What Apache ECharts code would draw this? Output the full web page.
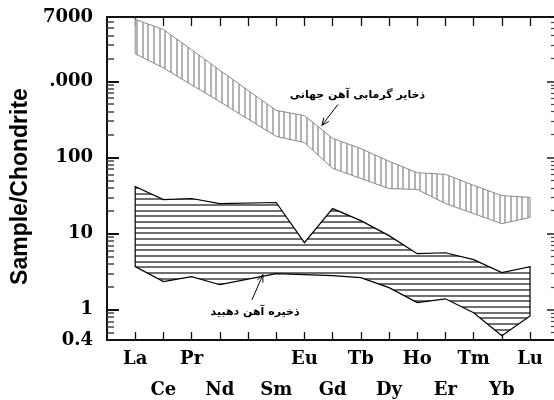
<!DOCTYPE html>
<html><head><meta charset="utf-8">
<script src="https://cdn.jsdelivr.net/npm/echarts@6/dist/echarts.min.js"></script>
<style>html,body{margin:0;padding:0;background:#fff}#c{width:554px;height:400px}</style>
</head><body><div id="c"></div>
<script>
// REE order (Pm slot kept empty on the axis)
const elements = ['La','Ce','Pr','Nd','Pm','Sm','Eu','Gd','Tb','Dy','Ho','Er','Tm','Yb','Lu'];
const elementPos = [1,2,3,4,5,6,7,8,9,10,11,12,13,14,15];
const bandElements = ['La','Ce','Pr','Nd','Sm','Eu','Gd','Tb','Dy','Ho','Er','Tm','Yb','Lu'];
// World hydrothermal iron deposits (range)
const worldUpper = [6500, 4800, 2600, 1400, 415, 355, 178, 131, 89, 63, 60, 43, 31.6, 29.8];
const worldLower = [2300, 1500, 900, 540, 189, 157, 72, 53, 39, 38, 24.8, 18.3, 13.5, 16.3];
// Dahbid iron deposit (range)
const dahbidUpper = [41.5, 28, 28.9, 24.8, 25.6, 7.6, 21.3, 14.8, 9.4, 5.45, 5.6, 4.55, 3.07, 3.68];
const dahbidLower = [3.68, 2.34, 2.72, 2.13, 2.98, 2.89, 2.8, 2.64, 1.95, 1.24, 1.39, 0.91, 0.455, 0.83];
// y axis ticks
const yTickValues = [0.4, 1, 10, 100, 1000, 7000];
const yTickText = ['0.4', '1', '10', '100', '.000', '7000'];
const yMajorTicks = [1, 10, 100, 1000];
const yMinorTicks = [0.5,0.6,0.7,0.8,0.9, 2,3,4,5,6,7,8,9, 20,30,40,50,60,70,80,90,
  200,300,400,500,600,700,800,900, 2000,3000,4000,5000,6000];
const labelWorld = 'ذخایر گرمابی آهن جهانی';
const labelDahbid = 'ذخیره آهن دهبید';

function pos(name){ return elementPos[elements.indexOf(name)]; }

function makePattern(vertical, color){
  const c = document.createElement('canvas');
  c.width = 17; c.height = 17;
  const g = c.getContext('2d');
  g.fillStyle = '#fff'; g.fillRect(0,0,17,17);
  g.fillStyle = color;
  for (let k = 0; k < 3; k++) {
    const o = Math.round(k * 17 / 3);
    if (vertical) g.fillRect(o, 0, 2, 17); else g.fillRect(0, o, 17, 2);
  }
  return {image: c, repeat: 'repeat'};
}
const patWorld = makePattern(true, '#b4b4b4');
const patDahbid = makePattern(false, '#707070');

function bandSeries(upper, lower, fill, stroke, lw){
  return {
    type: 'custom',
    coordinateSystem: 'cartesian2d',
    xAxisIndex: 0, yAxisIndex: 0,
    data: [[1, 1]],
    silent: true,
    renderItem: function(params, api){
      const pts = [];
      for (let i = 0; i < bandElements.length; i++) pts.push(api.coord([pos(bandElements[i]), upper[i]]));
      for (let i = bandElements.length - 1; i >= 0; i--) pts.push(api.coord([pos(bandElements[i]), lower[i]]));
      return {type: 'polygon', shape: {points: pts}, style: {fill: fill, stroke: stroke, lineWidth: lw}};
    }
  };
}

const serifFont = 'DejaVu Serif';
function yLabel(v){
  for (let i = 0; i < yTickValues.length; i++) {
    if (Math.abs(Math.log10(v) - Math.log10(yTickValues[i])) < 0.01) return yTickText[i];
  }
  return '';
}
const yBase = {type: 'log', logBase: 10, min: 0.4, max: 7000, splitLine: {show: false}};
const xBase = {type: 'value', min: 0, max: 15.85, splitLine: {show: false}};

const chart = echarts.init(document.getElementById('c'), null, {renderer: 'canvas'});
const option = {
  animation: false,
  backgroundColor: '#fff',
  grid: {left: 107, right: 0, top: 17, bottom: 60, containLabel: false, outerBoundsMode: 'none'},
  xAxis: [
    Object.assign({}, xBase, {
      position: 'bottom',
      axisLine: {lineStyle: {color: '#111', width: 2}},
      axisTick: {inside: true, length: 8, customValues: elementPos, lineStyle: {color: '#111', width: 1.3}},
      axisLabel: {
        customValues: elementPos, margin: 4,
        formatter: function(v){ const n = elements[Math.round(v) - 1]; if (!n || n === 'Pm') return ''; return (Math.round(v) % 2 === 1) ? n : '\n' + n; },
        fontFamily: serifFont, fontWeight: 'bold', fontSize: 18, color: '#000', lineHeight: 31
      }
    }),
    Object.assign({}, xBase, {
      position: 'top',
      axisLine: {lineStyle: {color: '#111', width: 2}},
      axisTick: {inside: true, length: 9, customValues: elementPos, lineStyle: {color: '#111', width: 1.3}},
      axisLabel: {show: false}
    })
  ],
  yAxis: [
    Object.assign({}, yBase, {
      position: 'left',
      name: 'Sample/Chondrite', nameLocation: 'middle', nameGap: 71, nameRotate: 90,
      nameTextStyle: {fontFamily: 'Liberation Sans', fontWeight: 'bold', fontSize: 23, color: '#000', padding: [0, 16, 0, 0]},
      axisLine: {show: true, lineStyle: {color: '#111', width: 2}},
      axisTick: {inside: true, length: 12, customValues: yMajorTicks, lineStyle: {color: '#111', width: 2}},
      axisLabel: {customValues: yTickValues, formatter: yLabel, margin: 14,
        fontFamily: serifFont, fontWeight: 'bold', fontSize: 18, color: '#000'}
    }),
    Object.assign({}, yBase, {
      position: 'left',
      axisLine: {show: false},
      axisTick: {inside: true, length: 7, customValues: yMinorTicks, lineStyle: {color: '#444', width: 1.5}},
      axisLabel: {show: false}
    }),
    Object.assign({}, yBase, {
      position: 'right',
      axisLine: {show: false},
      axisTick: {inside: true, length: 7, customValues: yMajorTicks, lineStyle: {color: '#222', width: 1.5}},
      axisLabel: {show: false}
    }),
    Object.assign({}, yBase, {
      position: 'right',
      axisLine: {show: false},
      axisTick: {inside: true, length: 3, customValues: yMinorTicks, lineStyle: {color: '#444', width: 1.2}},
      axisLabel: {show: false}
    })
  ],
  series: [
    bandSeries(worldUpper, worldLower, patWorld, '#8a8a8a', 1),
    bandSeries(dahbidUpper, dahbidLower, patDahbid, '#000', 1.2)
  ]
};
chart.setOption(option);

// annotations: text anchor and arrow (tail -> head) in data coordinates
const annotations = [
  {text: labelWorld, at: [8.88, 660], from: [8.19, 498], to: [7.62, 264]},
  {text: labelDahbid, at: [5.25, 0.93], from: [5.14, 1.35], to: [5.53, 2.89]}
];
const graphics = [];
annotations.forEach(function(a){
  const p = chart.convertToPixel({xAxisIndex: 0, yAxisIndex: 0}, a.at);
  const f = chart.convertToPixel({xAxisIndex: 0, yAxisIndex: 0}, a.from);
  const t = chart.convertToPixel({xAxisIndex: 0, yAxisIndex: 0}, a.to);
  graphics.push({type: 'text', x: p[0], y: p[1], style: {text: a.text, font: 'bold 11px "DejaVu Sans"', fill: '#000', align: 'center', verticalAlign: 'middle'}, z: 100});
  graphics.push({type: 'line', shape: {x1: f[0], y1: f[1], x2: t[0], y2: t[1]}, style: {stroke: '#000', lineWidth: 1}, z: 100});
  const ang = Math.atan2(f[1] - t[1], f[0] - t[0]);
  const L = 8, da = 0.4;
  graphics.push({type: 'polyline', shape: {points: [
    [t[0] + L * Math.cos(ang + da), t[1] + L * Math.sin(ang + da)], [t[0], t[1]],
    [t[0] + L * Math.cos(ang - da), t[1] + L * Math.sin(ang - da)]]}, style: {stroke: '#000', lineWidth: 1, fill: null}, z: 100});
});
chart.setOption({graphic: graphics});
</script></body></html>
